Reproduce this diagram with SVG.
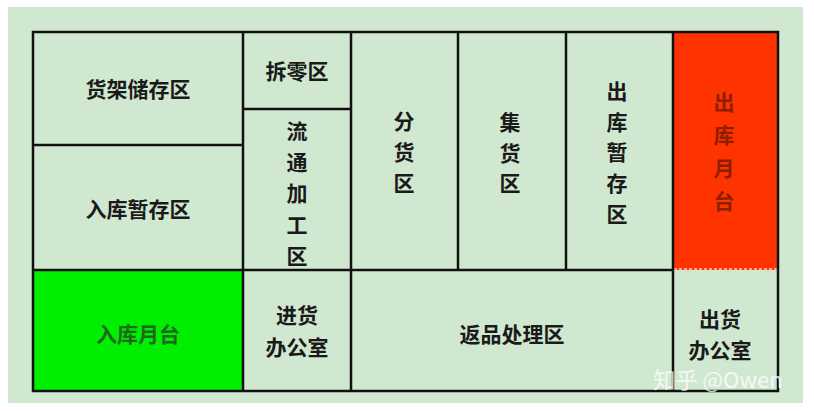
<svg xmlns="http://www.w3.org/2000/svg" width="814" height="411" viewBox="0 0 814 411">
<style>
.t{font-family:"Noto Sans CJK SC","Noto Sans",sans-serif;font-size:21px;font-weight:bold;fill:#1a1a1a;text-anchor:middle;dominant-baseline:central}
.ln{stroke:#111;stroke-width:2.5;fill:none}
</style>
<rect x="0" y="0" width="814" height="411" fill="#ffffff"/>
<rect x="8" y="7" width="795" height="396" fill="#d0e8cf"/>
<g id="nodes">
<g id="huojia"><text class="t" x="138" y="88">货架储存区</text></g>
<g id="rukuzancun"><text class="t" x="138" y="208">入库暂存区</text></g>
<g id="chailing"><text class="t" x="297" y="70">拆零区</text></g>
<g id="liutong"><text class="t" x="297" y="130">流</text><text class="t" x="297" y="161">通</text><text class="t" x="297" y="192">加</text><text class="t" x="297" y="224">工</text><text class="t" x="297" y="255">区</text></g>
<g id="fenhuo"><text class="t" x="404" y="120">分</text><text class="t" x="404" y="151">货</text><text class="t" x="404" y="182">区</text></g>
<g id="jihuo"><text class="t" x="510" y="121">集</text><text class="t" x="510" y="152">货</text><text class="t" x="510" y="182">区</text></g>
<g id="chukuzancun"><text class="t" x="617" y="90">出</text><text class="t" x="617" y="121">库</text><text class="t" x="617" y="151">暂</text><text class="t" x="617" y="182">存</text><text class="t" x="617" y="213">区</text></g>
<g id="chukuyuetai"><rect x="673" y="32" width="105" height="238" fill="#ff3300"/><line x1="674" y1="269" x2="777" y2="269" stroke="#ffd0c0" stroke-width="1.5" stroke-dasharray="3 2"/><text class="t" x="724" y="101" style="fill:#8f1d00">出</text><text class="t" x="724" y="134" style="fill:#8f1d00">库</text><text class="t" x="724" y="167" style="fill:#8f1d00">月</text><text class="t" x="724" y="200" style="fill:#8f1d00">台</text></g>
<g id="rukuyuetai"><rect x="33" y="270" width="210" height="121" fill="#00ee00"/><text class="t" x="138" y="333" style="fill:#1b6b1b">入库月台</text></g>
<g id="jinhuo"><text class="t" x="297" y="314">进货</text><text class="t" x="297" y="346">办公室</text></g>
<g id="fanpin"><text class="t" x="512" y="333">返品处理区</text></g>
<g id="chuhuo"><text class="t" x="720" y="318">出货</text><text class="t" x="720" y="349">办公室</text></g>
</g>
<g id="lines">
<rect class="ln" x="33" y="32" width="745" height="359" stroke-width="3"/>
<line class="ln" x1="243" y1="32" x2="243" y2="391"/>
<line class="ln" x1="351" y1="32" x2="351" y2="391"/>
<line class="ln" x1="458" y1="32" x2="458" y2="270"/>
<line class="ln" x1="566" y1="32" x2="566" y2="270"/>
<line class="ln" x1="673" y1="32" x2="673" y2="391"/>
<line class="ln" x1="33" y1="145" x2="243" y2="145"/>
<line class="ln" x1="243" y1="109" x2="351" y2="109"/>
<line class="ln" x1="33" y1="270" x2="673" y2="270"/>
</g>
<text x="718" y="378" style="font-family:'Noto Sans CJK SC','Noto Sans',sans-serif;font-size:22px;fill:#ffffff;fill-opacity:0.8;text-anchor:middle;dominant-baseline:central">知乎 @Owen</text>
</svg>
